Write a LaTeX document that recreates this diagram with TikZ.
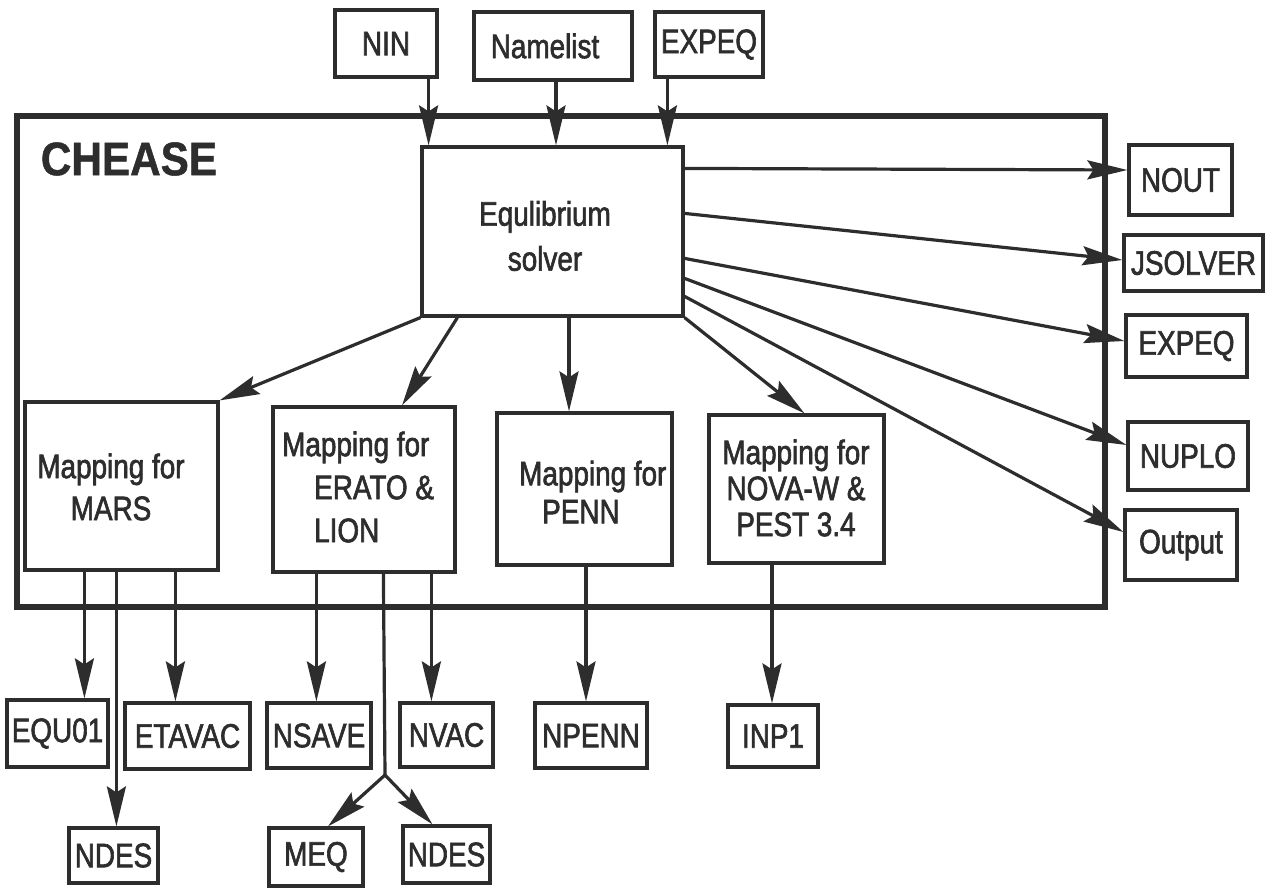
\documentclass[tikz,border=0pt]{standalone}
\usepackage{fontspec}
\setmainfont[FakeStretch=0.82,FakeBold=1.8]{Liberation Sans}
\newfontfamily\hvb[FakeStretch=0.9,FakeBold=1]{Liberation Sans}
\usetikzlibrary{arrows.meta,calc}
\definecolor{ink}{RGB}{45,45,45}
\begin{document}
\begin{tikzpicture}[x=1pt,y=-1pt,
  box/.style={draw=ink, line width=3.2pt, inner sep=0pt, text=ink, font=\fontsize{34}{40}\selectfont},
  lbl/.style={inner sep=0pt, text=ink},
  wire/.style={draw=ink, line width=3.2pt},
  conn/.style={draw=ink, line width=3.2pt, -{Stealth[length=40pt,width=19pt,inset=6pt]}}]
\useasboundingbox[fill=white] (0,0) rectangle (1267,895);

% frame
\node[draw=ink, line width=5.5pt, minimum width=1088pt, minimum height=491pt, inner sep=0pt] (chease) at (561,361.5) {};
\node[lbl, font=\hvb\bfseries\fontsize{47}{50}\selectfont] (title) at (129,159) {CHEASE};

% inputs
\node[box, minimum width=102pt, minimum height=67pt] (nin) at (386,43.5) {NIN};
\node[box, minimum width=158pt, minimum height=68pt] (namelist) at (553,46) {Namelist\hspace*{16pt}};
\node[box, minimum width=108pt, minimum height=65pt] (expeqin) at (709,44.5) {EXPEQ};

% solver
\node[box, minimum width=261pt, minimum height=169pt] (solver) at (552.5,231.5) {};
\node[lbl, align=center, font=\fontsize{34}{45}\selectfont] (solvertxt) at (545,236) {Equlibrium\\solver};

% outputs right
\node[box, minimum width=103pt, minimum height=70pt] (nout) at (1180.5,180) {NOUT};
\node[box, minimum width=139pt, minimum height=56pt] (jsolver) at (1193.5,263) {JSOLVER};
\node[box, minimum width=121pt, minimum height=62pt] (expeqout) at (1186.5,346) {EXPEQ};
\node[box, minimum width=120pt, minimum height=68pt] (nuplo) at (1188,456) {NUPLO};
\node[box, minimum width=112pt, minimum height=70pt] (output) at (1181,545) {Output};

% mapping boxes
\node[box, minimum width=193pt, minimum height=168pt] (mars) at (121.5,486) {};
\node[lbl, align=center, font=\fontsize{34}{42}\selectfont] (marstxt) at (111,487) {Mapping for\\MARS};
\node[box, minimum width=182pt, minimum height=165pt] (erato) at (364,489.5) {};
\node[lbl, anchor=west, align=left, font=\fontsize{34}{43}\selectfont] (eratotxt) at (282,487) {Mapping for\\\hspace*{32pt}ERATO \&\\\hspace*{32pt}LION};
\node[box, minimum width=175pt, minimum height=152pt] (penn) at (584.5,489) {};
\node[lbl, anchor=west, align=left, font=\fontsize{34}{38}\selectfont] (penntxt) at (519,492) {Mapping for\\\hspace*{23pt}PENN};
\node[box, minimum width=175pt, minimum height=148pt] (nova) at (796.5,489) {};
\node[lbl, align=center, font=\fontsize{34}{36}\selectfont] (novatxt) at (796,488) {Mapping for\\NOVA-W \&\\PEST 3.4};

% bottom files
\node[box, minimum width=101pt, minimum height=67pt] (equ) at (57.5,733.5) {EQU01};
\node[box, minimum width=125pt, minimum height=66pt] (etavac) at (187.5,736) {ETAVAC};
\node[box, minimum width=104pt, minimum height=65pt] (nsave) at (319,735.5) {NSAVE};
\node[box, minimum width=93pt, minimum height=64pt] (nvac) at (446.5,735) {NVAC};
\node[box, minimum width=112pt, minimum height=65pt] (npenn) at (591,735.5) {NPENN};
\node[box, minimum width=90pt, minimum height=62pt] (inp) at (773,736) {INP1};
\node[box, minimum width=89pt, minimum height=55pt] (ndesa) at (113.5,855.5) {NDES};
\node[box, minimum width=94pt, minimum height=58pt] (meq) at (316,857) {MEQ};
\node[box, minimum width=87pt, minimum height=57pt] (ndesb) at (446.5,854.5) {NDES};
\coordinate (br) at (385,775);

% input arrows
\draw[conn] ([xshift=-10pt]nin.south east) -- ([xshift=-10pt]nin.south east |- solver.north);
\draw[conn] ([xshift=3pt]namelist.south) -- ([xshift=3pt]namelist.south |- solver.north);
\draw[conn] ([xshift=14pt]expeqin.south west) -- ([xshift=14pt]expeqin.south west |- solver.north);

% solver outputs
\draw[conn] ([yshift=-23pt]solver.north east) -- ([yshift=10pt]nout.west);
\draw[conn] ([yshift=-68pt]solver.north east) -- ([yshift=3pt]jsolver.west);
\draw[conn] ([yshift=-113pt]solver.north east) -- ([yshift=5pt]expeqout.west);
\draw[conn] ([yshift=-133pt]solver.north east) -- ([yshift=11pt]nuplo.west);
\draw[conn] ([yshift=-151pt]solver.north east) -- ([yshift=13pt]output.west);

% solver to mappings
\draw[conn] (solver.south west) -- (mars.north east);
\draw[conn] ([xshift=37pt]solver.south west) -- ([xshift=38pt]erato.north);
\draw[conn] ([xshift=-15.5pt]penn.north |- solver.south) -- ([xshift=-15.5pt]penn.north);
\draw[conn] (solver.south east) -- ([xshift=8pt]nova.north);

% mappings to files
\draw[conn] ([xshift=61pt]mars.south west) -- ([xshift=61pt]mars.south west |- equ.north);
\draw[conn] ([xshift=93pt]mars.south west) -- ([xshift=93pt]mars.south west |- ndesa.north);
\draw[conn] ([xshift=152pt]mars.south west) -- ([xshift=152pt]mars.south west |- etavac.north);
\draw[conn] ([xshift=45pt]erato.south west) -- ([xshift=45pt]erato.south west |- nsave.north);
\draw[wire] ([xshift=112pt]erato.south west) -- (br);
\draw[conn] (br) -- ([xshift=12pt]meq.north);
\draw[conn] (br) -- ([xshift=-14pt]ndesb.north);
\draw[conn] ([xshift=160pt]erato.south west) -- ([xshift=160pt]erato.south west |- nvac.north);
\draw[conn] ([xshift=1.5pt]penn.south) -- ([xshift=1.5pt]penn.south |- npenn.north);
\draw[conn] ([xshift=-24.5pt]nova.south) -- ([xshift=-24.5pt]nova.south |- inp.north);
\end{tikzpicture}
\end{document}
